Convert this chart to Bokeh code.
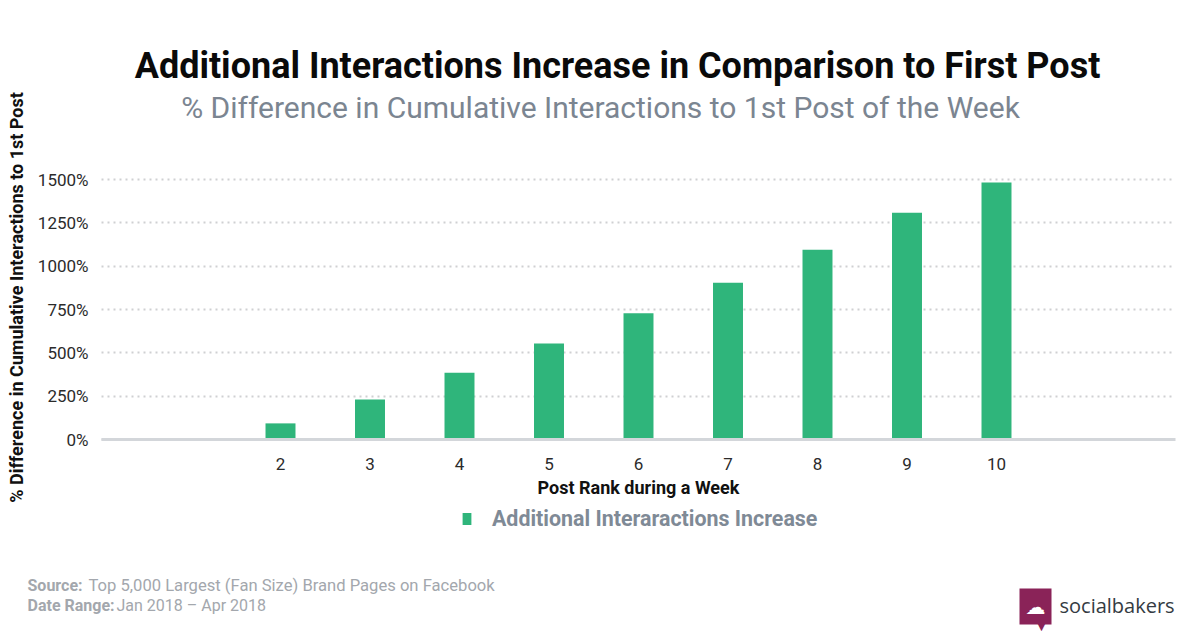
from bokeh.plotting import figure
from bokeh.models import (Range1d, ColumnDataSource, Label, Legend, LegendItem,
                          FixedTicker, CustomJSTickFormatter)
from bokeh.embed import file_html
from bokeh.resources import INLINE

# ---- data ----
post_rank = [2, 3, 4, 5, 6, 7, 8, 9, 10]
pct_difference = [93, 231, 385, 554, 729, 904, 1095, 1308, 1483]
y_ticks = [0, 250, 500, 750, 1000, 1250, 1500]
x_ticks = [2, 3, 4, 5, 6, 7, 8, 9, 10]

title_text = "Additional Interactions Increase in Comparison to First Post"
subtitle_text = "% Difference in Cumulative Interactions to 1st Post of the Week"
y_label = "% Difference in Cumulative Interactions to 1st Post"
x_label = "Post Rank during a Week"
series_name = "Additional Interaractions Increase"
source_label, source_text = "Source:", "Top 5,000 Largest (Fan Size) Brand Pages on Facebook"
range_label, range_text = "Date Range:", "Jan 2018  \u2013 Apr 2018"
brand = "socialbakers"

# ---- geometry (page pixels) ----
W, H = 1192, 640
X0 = 0                      # page x of the canvas left edge
PX_LEFT, PX_ZERO = 101, 439 # page x of rank 0, page y of 0 %
UNIT_X = 89.5               # px per rank
UNIT_Y = 260 / 1500         # px per percent

BAR = "#2fb57b"

p = figure(width=W, height=H, output_backend="svg", toolbar_location=None,
           x_range=Range1d((X0 - PX_LEFT) / UNIT_X, (X0 + W - PX_LEFT) / UNIT_X),
           y_range=Range1d((PX_ZERO - H) / UNIT_Y, PX_ZERO / UNIT_Y),
           min_border=0)
p.outline_line_color = None
p.background_fill_color = "white"
p.border_fill_color = "white"

src = ColumnDataSource(dict(x=post_rank, y=pct_difference))
bars = p.vbar(x="x", top="y", width=0.335, source=src, color=BAR, line_color=None)

# axes drawn at fixed positions inside the (full-canvas) frame
p.xaxis.fixed_location = 0
p.yaxis.fixed_location = 0
p.xaxis.bounds = (0, 12)
p.yaxis.bounds = (0, 1638)
p.xaxis.ticker = FixedTicker(ticks=x_ticks)
p.yaxis.ticker = FixedTicker(ticks=y_ticks)
p.yaxis.formatter = CustomJSTickFormatter(code="return tick + '%';")
for ax in (p.xaxis[0], p.yaxis[0]):
    ax.major_tick_line_color = None
    ax.minor_tick_line_color = None
    ax.major_label_text_font = "Roboto"
    ax.major_label_text_font_size = "17px"
    ax.major_label_text_color = "#2b2b2b"
    ax.axis_label_text_font = "Roboto"
    ax.axis_label_text_font_size = "18px"
    ax.axis_label_text_font_style = "bold"
    ax.axis_label_text_color = "#111111"
p.yaxis.axis_line_color = None
p.yaxis.major_label_standoff = 7
p.yaxis.axis_label = y_label
p.yaxis.axis_label_standoff = 8
p.xaxis.axis_line_color = "#d3d6da"
p.xaxis.axis_line_width = 3
p.xaxis.major_label_standoff = 12
p.xaxis.axis_label = x_label
p.xaxis.axis_label_standoff = 4

p.xgrid.grid_line_color = None
yg = p.ygrid[0]
yg.grid_line_color = "#cfd0d2"
yg.grid_line_width = 2
yg.grid_line_dash = "2 4"
yg.bounds = (0, 1500)
if "cross_bounds" in yg.properties():
    yg.cross_bounds = (0, 12)

# legend
legend = Legend(items=[LegendItem(label=series_name, renderers=[bars])],
                location=(461 - X0, H - 531), orientation="horizontal",
                glyph_width=11, glyph_height=15, label_height=20,
                label_standoff=20, padding=0, margin=0, spacing=0,
                border_line_color=None, background_fill_alpha=0,
                label_text_font="Roboto", label_text_font_size="21.4px",
                label_text_font_style="bold", label_text_color="#7f8a96")
p.add_layout(legend, "center")


def lab(text, px, py, size, color, style="normal", align="left", font="Roboto", **kw):
    # px, py: page position -> frame screen units (origin bottom-left)
    return Label(x=px - X0, y=H - py, x_units="screen", y_units="screen",
                 text=text, text_font=font, text_font_size=size, text_color=color,
                 text_font_style=style, text_align=align, text_baseline="middle", **kw)


p.add_layout(lab(title_text, 617, 65, "36px", "#0a0a0a", "bold", "center"))
p.add_layout(lab(subtitle_text, 600, 107, "30px", "#7b8591", "normal", "center"))

GRAY = "#a3a7ad"
p.add_layout(lab(source_label, 27, 585, "16px", GRAY, "bold"))
p.add_layout(lab(source_text, 88, 585, "16.6px", GRAY))
p.add_layout(lab(range_label, 27, 605, "16px", GRAY, "bold"))
p.add_layout(lab(range_text, 116, 605, "16px", GRAY))

MAG = "#8a2358"
p.add_layout(lab("\u2601", 1035, 606, "20px", "white", "normal", "center",
                 font="DejaVu Sans", background_fill_color=MAG, padding=6))
p.add_layout(lab("\u25BC", 1041, 626, "11px", MAG, "normal", "center", font="DejaVu Sans"))
p.add_layout(lab(brand, 1059, 605, "20px", "#343b42", "normal", "left", font="Open Sans"))

open("out.html", "w").write(file_html(p, INLINE))
